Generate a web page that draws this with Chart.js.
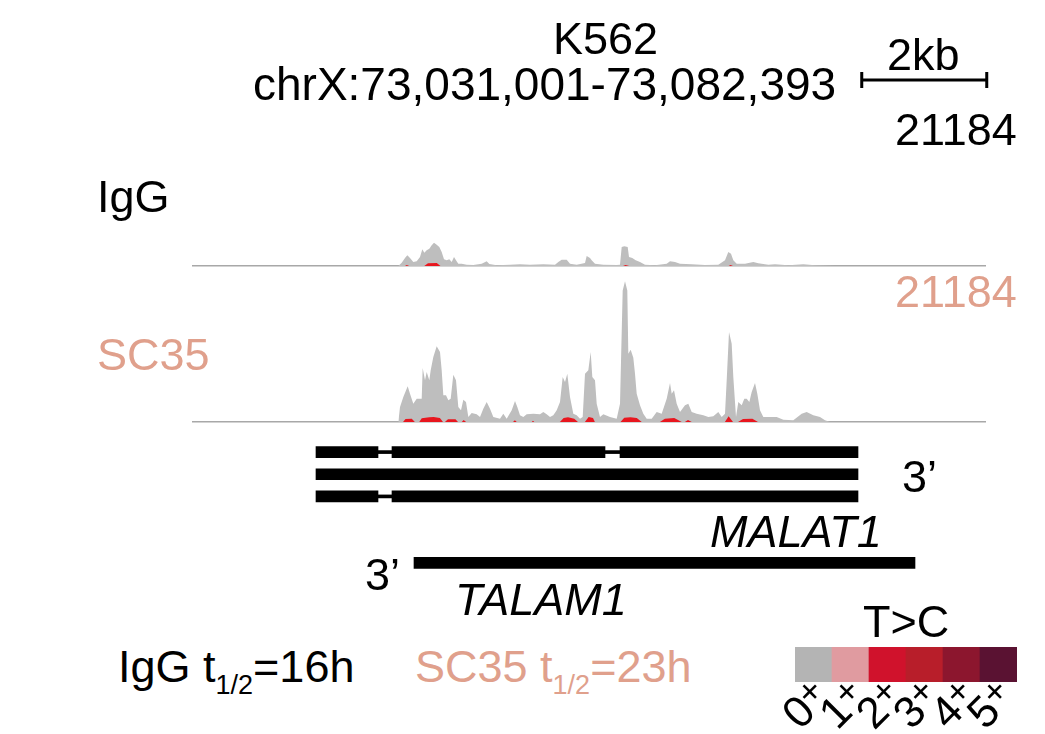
<!DOCTYPE html>
<html>
<head>
<meta charset="utf-8">
<script src="https://cdn.jsdelivr.net/npm/chart.js@4/dist/chart.umd.min.js"></script>
<style>
  body { margin: 0; background: #fff; }
  #page { position: relative; width: 1045px; height: 734px; overflow: hidden;
          font-family: "Liberation Sans", Arial, sans-serif; color: #000; }
  #page canvas { position: absolute; }
  .lbl { position: absolute; font-size: 45px; line-height: 1; white-space: nowrap; }
  .salmon { color: #e0a08c; }
  .it { font-style: italic; }
  .sub { font-size: 27px; vertical-align: -12px; }
</style>
</head>
<body>
<div id="page">
  <canvas id="igg" width="1045" height="268" style="left:0;top:0"></canvas>
  <canvas id="sc35" width="1045" height="154" style="left:0;top:270px"></canvas>
  <canvas id="genes" width="1045" height="155" style="left:0;top:430px"></canvas>
  <canvas id="tc" width="285" height="94" style="left:760px;top:640px"></canvas>

  <div class="lbl" style="left:553px;top:16px">K562</div>
  <div class="lbl" style="left:253px;top:61px;font-size:46px">chrX:73,031,001-73,082,393</div>
  <div class="lbl" style="left:887px;top:32px">2kb</div>
  <div class="lbl" style="left:895px;top:107px">21184</div>
  <div class="lbl" style="left:97px;top:174px">IgG</div>
  <div class="lbl salmon" style="left:895px;top:269px">21184</div>
  <div class="lbl salmon" style="left:97px;top:332px">SC35</div>
  <div class="lbl" style="left:902px;top:454px">3’</div>
  <div class="lbl it" style="left:710px;top:509px">MALAT1</div>
  <div class="lbl" style="left:365px;top:552px">3’</div>
  <div class="lbl it" style="left:455px;top:577px">TALAM1</div>
  <div class="lbl" style="left:863px;top:599px">T&gt;C</div>
  <div class="lbl" style="left:118px;top:644px">IgG t<span class="sub">1/2</span>=16h</div>
  <div class="lbl salmon" style="left:415px;top:644px">SC35 t<span class="sub">1/2</span>=23h</div>
</div>

<script>
// window shown, in kb from the left edge of the tracks
const windowKb = 12.672;
const trackMax = 21184;
const scaleBarStart = 10.70;
const scaleBarKb = 2;

// IgG coverage (kb, reads)
const iggPos = [3.285, 3.339, 3.392, 3.429, 3.472, 3.525, 3.579, 3.632, 3.669, 3.701, 3.739, 3.781, 3.819, 3.856, 3.899,
  3.941, 3.979, 4.016, 4.059, 4.101, 4.139, 4.176, 4.208, 4.245, 4.299, 4.379, 4.485, 4.619, 4.699, 4.741, 4.859,
  5.072, 5.232, 5.392, 5.605, 5.792, 5.845, 5.899, 5.979, 6.032, 6.139, 6.272, 6.299, 6.352, 6.379, 6.432, 6.565,
  6.779, 6.832, 6.859, 6.901, 6.955, 6.976, 7.029, 7.083, 7.152, 7.232, 7.392, 7.579, 7.632, 7.712, 7.792, 7.979,
  8.192, 8.405, 8.512, 8.565, 8.608, 8.645, 8.699, 8.832, 8.965, 9.045, 9.205, 9.312, 9.525, 9.765, 9.952, 10.165, 10.272];
const iggVal = [0, 497, 1193, 1590, 1193, 596, 696, 1342, 2485, 1988, 2336, 2584, 3081, 3479, 3181,
  2833, 2087, 994, 845, 994, 596, 1342, 845, 348, 348, 199, 149, 348, 696, 298, 99,
  199, 249, 199, 249, 199, 596, 944, 944, 348, 199, 447, 1491, 1193, 845, 348, 199,
  149, 199, 2833, 2932, 2833, 1342, 1193, 845, 596, 199, 99, 348, 696, 596, 348, 249,
  149, 199, 845, 2087, 1839, 845, 348, 348, 596, 398, 199, 249, 99, 249, 99, 50, 0];

// IgG T>C reads
const iggRedPos = [3.39, 3.42, 3.46, 3.70, 3.76, 3.90, 3.96, 6.88, 6.92, 6.98, 8.57, 8.60, 8.64];
const iggRedVal = [0, 150, 0, 0, 400, 450, 0, 0, 150, 0, 0, 150, 0];

// SC35 coverage (kb, reads)
const scPos = [3.285, 3.312, 3.365, 3.435, 3.472, 3.525, 3.579, 3.659, 3.675, 3.712, 3.739, 3.781, 3.803, 3.845, 3.899,
  3.952, 3.979, 4.005, 4.048, 4.085, 4.123, 4.165, 4.208, 4.245, 4.288, 4.325, 4.368, 4.405, 4.459, 4.539, 4.592,
  4.645, 4.699, 4.752, 4.805, 4.912, 4.965, 5.019, 5.099, 5.152, 5.189, 5.232, 5.285, 5.339, 5.445, 5.552, 5.605,
  5.659, 5.712, 5.765, 5.819, 5.872, 5.915, 5.952, 5.989, 6.032, 6.085, 6.139, 6.192, 6.235, 6.272, 6.325, 6.363,
  6.389, 6.432, 6.459, 6.512, 6.565, 6.672, 6.779, 6.832, 6.875, 6.912, 6.949, 6.965, 7.003, 7.045, 7.072, 7.099,
  7.152, 7.205, 7.259, 7.339, 7.419, 7.499, 7.579, 7.632, 7.659, 7.696, 7.739, 7.792, 7.872, 7.925, 7.979, 8.059,
  8.165, 8.245, 8.325, 8.405, 8.459, 8.512, 8.539, 8.576, 8.619, 8.645, 8.688, 8.725, 8.779, 8.821, 8.859, 8.901,
  8.939, 8.992, 9.029, 9.072, 9.125, 9.339, 9.445, 9.605, 9.739, 9.819, 9.925, 10.032, 10.112, 10.192];
const scVal = [0, 2237, 3728, 5318, 4225, 2734, 3479, 3479, 8051, 6213, 7455, 6213, 7704, 9692, 11282,
  10437, 7704, 3976, 3976, 3231, 3479, 7057, 6213, 2237, 1740, 3330, 2982, 746, 1342, 1143, 746,
  1988, 2982, 1988, 746, 497, 1243, 497, 1740, 3131, 2237, 994, 746, 1143, 1243, 1143, 1491,
  1143, 746, 994, 1740, 2982, 6710, 5964, 7207, 3728, 1243, 994, 497, 746, 7207, 7704, 10437,
  6710, 6213, 2734, 746, 1143, 746, 497, 2734, 19632, 21000, 19632, 10189, 10785, 9592, 7207, 4225,
  2485, 1243, 497, 497, 1491, 1243, 3479, 5815, 4225, 4722, 2734, 1491, 2485, 2734, 1491, 1243,
  994, 746, 845, 1491, 746, 1243, 6213, 13419, 11680, 6710, 746, 2982, 2485, 3479, 3479, 2982,
  4473, 5815, 4225, 1740, 746, 746, 348, 249, 1243, 1491, 994, 746, 249, 0];

// SC35 T>C reads
const scRedPos = [3.36, 3.40, 3.50, 3.55, 3.62, 3.66, 3.78, 3.85, 3.95, 4.00, 4.03, 4.08, 4.20, 4.24, 4.30, 4.33, 4.37,
  5.12, 5.15, 5.18, 5.42, 5.44, 5.46, 5.87, 5.93, 6.00, 6.10, 6.16, 6.27, 6.33, 6.40, 6.43,
  6.84, 6.90, 7.00, 7.10, 7.18, 7.47, 7.55, 7.70, 7.82, 7.87, 7.92, 7.98, 8.51, 8.57, 8.64, 8.72, 8.80, 8.95, 9.04];
const scRedVal = [0, 450, 500, 0, 0, 550, 700, 750, 600, 0, 0, 400, 400, 0, 0, 300, 0,
  0, 250, 0, 0, 200, 0, 0, 600, 700, 500, 0, 0, 750, 600, 0,
  0, 650, 700, 600, 0, 0, 500, 600, 0, 0, 300, 0, 0, 850, 0, 0, 450, 500, 0];

// gene models (kb)
const geneRows = ['MALAT1-1', 'MALAT1-2', 'MALAT1-3', 'spacer1', 'spacer2', 'TALAM1'];
const exonRow = ['MALAT1-1', 'MALAT1-1', 'MALAT1-1', 'MALAT1-2', 'MALAT1-3', 'MALAT1-3', 'TALAM1'];
const exonStart = [1.968, 3.184, 6.832, 1.968, 1.968, 3.184, 3.536];
const exonEnd = [2.960, 6.592, 10.640, 10.640, 2.960, 10.640, 11.552];
const intronRow = ['MALAT1-1', 'MALAT1-1', 'MALAT1-3'];
const intronStart = [2.960, 6.592, 2.960];
const intronEnd = [3.184, 6.832, 3.184];

// T>C colour key
const tcLabels = ['0', '1', '2', '3', '4', '5'];
const tcColors = ['#b4b4b4', '#e09ba0', '#d0122c', '#b81e2a', '#8c162e', '#5a1232'];

Chart.defaults.font.family = '"Liberation Sans", Arial, sans-serif';
Chart.defaults.animation = false;
Chart.defaults.plugins.legend.display = false;
Chart.defaults.plugins.tooltip.enabled = false;

function points(xs, ys) {
    return xs.map((x, i) => ({ x: x, y: ys[i] }));
}

function trackOptions(padTop) {
    return {
        responsive: false,
        layout: { padding: { left: 193, right: 60, top: padTop, bottom: 2 } },
        scales: {
            x: {
                type: 'linear', min: 0, max: windowKb,
                grid: { display: false, drawTicks: false },
                ticks: { display: false },
                border: { color: '#a8a8a8', width: 1.5 }
            },
            y: { display: false, min: 0, max: trackMax }
        }
    };
}

function trackData(pos, val, redPos, redVal) {
    return {
        datasets: [{
            data: points(redPos, redVal),
            fill: 'origin', backgroundColor: '#e8161e', borderWidth: 0, pointRadius: 0
        }, {
            data: points(pos, val),
            fill: 'origin', backgroundColor: '#bebebe', borderWidth: 0, pointRadius: 0
        }]
    };
}

// scale bar drawn against the x scale of the IgG track
const scaleBar = {
    id: 'scaleBar',
    afterDraw(chart) {
        const ctx = chart.ctx;
        const xs = chart.scales.x;
        const x1 = xs.getPixelForValue(scaleBarStart);
        const x2 = xs.getPixelForValue(scaleBarStart + scaleBarKb);
        const y = 80;
        ctx.save();
        ctx.strokeStyle = '#000';
        ctx.lineWidth = 3;
        ctx.beginPath();
        ctx.moveTo(x1, y); ctx.lineTo(x2, y);
        ctx.moveTo(x1, y - 8); ctx.lineTo(x1, y + 8);
        ctx.moveTo(x2, y - 8); ctx.lineTo(x2, y + 8);
        ctx.stroke();
        ctx.restore();
    }
};

// rotated "n+" labels under the colour key
const keyLabels = {
    id: 'keyLabels',
    afterDraw(chart) {
        const ctx = chart.ctx;
        const xs = chart.scales.x;
        const bottom = chart.chartArea.bottom;
        ctx.save();
        ctx.fillStyle = '#000';
        ctx.textBaseline = 'middle';
        tcLabels.forEach((lab, i) => {
            ctx.save();
            ctx.translate(xs.getPixelForValue(i) - 1, bottom + 14);
            ctx.rotate(-Math.PI / 4);
            ctx.font = '36px sans-serif';
            ctx.textAlign = 'center';
            ctx.fillText('+', 1, -3);
            ctx.font = '44px sans-serif';
            ctx.textAlign = 'right';
            ctx.fillText(lab, -9, 4);
            ctx.restore();
        });
        ctx.restore();
    }
};

new Chart(document.getElementById('igg'), {
    type: 'line',
    data: trackData(iggPos, iggVal, iggRedPos, iggRedVal),
    options: trackOptions(124),
    plugins: [scaleBar]
});

new Chart(document.getElementById('sc35'), {
    type: 'line',
    data: trackData(scPos, scVal, scRedPos, scRedVal),
    options: trackOptions(10)
});

// gene models as floating bars
new Chart(document.getElementById('genes'), {
    type: 'bar',
    data: {
        labels: geneRows,
        datasets: [{
            data: exonRow.map((r, i) => ({ y: r, x: [exonStart[i], exonEnd[i]] })),
            backgroundColor: '#000', barThickness: 11, grouped: false
        }, {
            data: intronRow.map((r, i) => ({ y: r, x: [intronStart[i], intronEnd[i]] })),
            backgroundColor: '#000', barThickness: 3, grouped: false
        }]
    },
    options: {
        responsive: false,
        indexAxis: 'y',
        layout: { padding: { left: 193, right: 60, top: 11, bottom: 11 } },
        scales: {
            x: { type: 'linear', display: false, min: 0, max: windowKb },
            y: { type: 'category', display: false }
        }
    }
});

// T>C colour key
new Chart(document.getElementById('tc'), {
    type: 'bar',
    data: {
        labels: tcLabels,
        datasets: [{
            data: tcLabels.map(() => 1),
            backgroundColor: tcColors,
            barPercentage: 1, categoryPercentage: 1, borderWidth: 0
        }]
    },
    options: {
        responsive: false,
        layout: { padding: { left: 35, right: 28, top: 7, bottom: 52 } },
        scales: {
            x: { display: false },
            y: { display: false, min: 0, max: 1 }
        }
    },
    plugins: [keyLabels]
});
</script>
</body>
</html>
